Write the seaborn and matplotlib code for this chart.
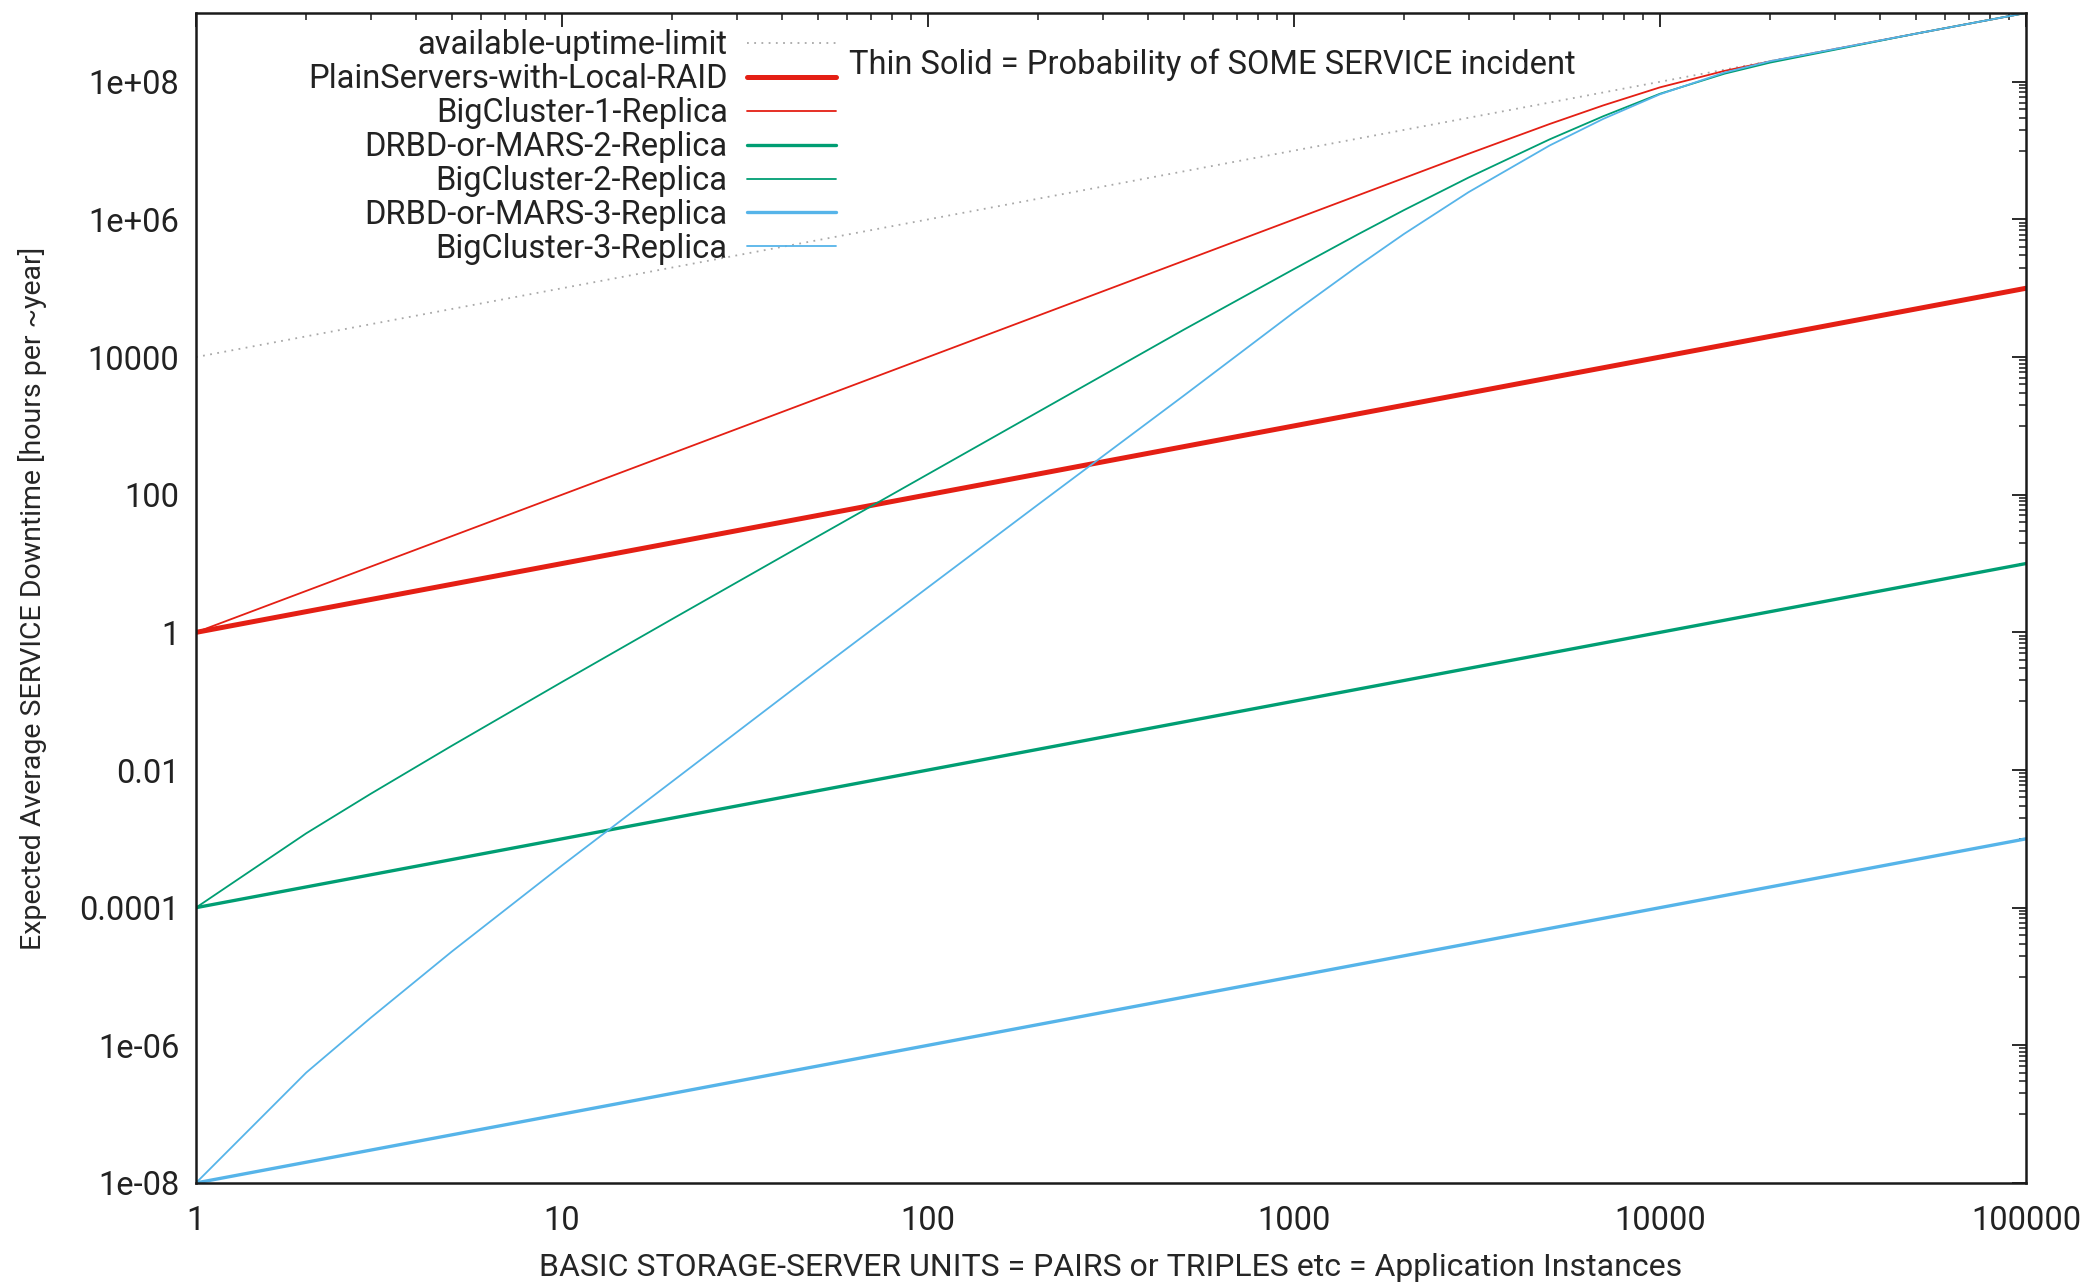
import matplotlib
matplotlib.use("Agg")
import matplotlib.pyplot as plt
import pandas as pd
import seaborn as sns
from matplotlib.ticker import FixedLocator, NullFormatter

# ── values ────────────────────────────────────────────────────────────────────
limit_units = [1, 10, 100, 1000, 10000, 100000]
limit_hours = [1e4, 1e5, 1e6, 1e7, 1e8, 1e9]

line_units = [1, 10, 100, 1000, 10000, 100000]
plain_raid = [1, 10, 100, 1000, 10000, 100000]
drbd_2rep  = [1e-4, 1e-3, 1e-2, 0.1, 1, 10]
drbd_3rep  = [1e-8, 1e-7, 1e-6, 1e-5, 1e-4, 1e-3]

cluster_units = [1, 2, 3, 5, 10, 20, 50, 100, 200, 500, 1000, 1500, 2000, 3000,
                 5000, 7000, 10000, 15000, 20000, 50000, 100000]
big_1rep = [1, 4, 9, 25, 100, 400, 2500, 1e4, 4e4, 2.5e5, 1e6, 2.25e6, 4e6, 9e6,
            2.44e7, 4.54e7, 8.3e7, 1.44e8, 1.98e8, 5e8, 1e9]
big_2rep = [1e-4, 1.2e-3, 4.5e-3, 2.25e-2, 0.19, 1.56, 24.8, 199, 1596, 2.5e4,
            1.9e5, 6.12e5, 1.37e6, 4.06e6, 1.46e7, 3.16e7, 6.7e7, 1.31e8, 1.9e8, 5e8, 1e9]
big_3rep = [1e-8, 4e-7, 2.5e-6, 2.3e-5, 4.1e-4, 6.8e-3, 0.28, 4.5, 72, 2750,
            4.47e4, 2.13e5, 6.17e5, 2.49e6, 1.19e7, 2.89e7, 6.58e7, 1.36e8, 1.99e8, 5e8, 1e9]

x_ticks = [1, 10, 100, 1000, 10000, 100000]
x_ticklabels = ['1', '10', '100', '1000', '10000', '100000']
y_ticks = [1e-8, 1e-6, 1e-4, 1e-2, 1, 1e2, 1e4, 1e6, 1e8]
y_ticklabels = ['1e-08', '1e-06', '0.0001', '0.01', '1', '100', '10000',
                '1e+06', '1e+08']

RED, GREEN, BLUE, GREY = '#e41f14', '#009e73', '#56b4e9', '#a8a8a8'
FS = 23.5

# ── style ─────────────────────────────────────────────────────────────────────
sns.set_theme(style='white')
plt.rcParams['font.family'] = ['Roboto', 'DejaVu Sans']
plt.rcParams['font.size'] = FS
plt.rcParams['text.color'] = '#222222'

fig, ax = plt.subplots(figsize=(20.8, 12.85), dpi=100)
fig.subplots_adjust(left=0.0942, right=0.974, bottom=0.0794, top=0.9899)

series = [
    (limit_units,   limit_hours, 'available-uptime-limit',      GREY,  1.3, (0, (1, 3))),
    (line_units,    plain_raid,  'PlainServers-with-Local-RAID', RED,   3.6, '-'),
    (cluster_units, big_1rep,    'BigCluster-1-Replica',         RED,   1.3, '-'),
    (line_units,    drbd_2rep,   'DRBD-or-MARS-2-Replica',       GREEN, 2.4, '-'),
    (cluster_units, big_2rep,    'BigCluster-2-Replica',         GREEN, 1.3, '-'),
    (line_units,    drbd_3rep,   'DRBD-or-MARS-3-Replica',       BLUE,  2.4, '-'),
    (cluster_units, big_3rep,    'BigCluster-3-Replica',         BLUE,  1.3, '-'),
]
for xs, ys, name, col, lw, ls in series:
    df = pd.DataFrame({'units': xs, 'hours': ys})
    sns.lineplot(data=df, x='units', y='hours', ax=ax, label=name, color=col,
                 linewidth=lw, linestyle=ls, estimator=None, sort=True)

ax.set_xscale('log');  ax.set_yscale('log')
ax.set_xlim(1, 1e5);   ax.set_ylim(1e-8, 1e9)

ax.xaxis.set_major_locator(FixedLocator(x_ticks))
ax.set_xticklabels(x_ticklabels)
ax.xaxis.set_minor_locator(FixedLocator([m * 10**k for k in range(5) for m in range(2, 10)]))
ax.yaxis.set_major_locator(FixedLocator(y_ticks))
ax.set_yticklabels(y_ticklabels)
ax.yaxis.set_minor_locator(FixedLocator([m * 10.0**(2*k + 1) for k in range(-4, 4) for m in range(1, 10)]))
ax.xaxis.set_minor_formatter(NullFormatter())
ax.yaxis.set_minor_formatter(NullFormatter())

ax.tick_params(which='both', direction='in', top=True, right=True,
               colors='#1a1a1a', labelcolor='#222222', labelsize=FS)
ax.tick_params(which='major', length=10, width=1.3)
ax.tick_params(which='minor', length=4.8, width=1.1)
ax.tick_params(axis='x', which='major', pad=16)
ax.tick_params(axis='y', which='major', pad=12)
for sp in ax.spines.values():
    sp.set_color('#1a1a1a');  sp.set_linewidth(1.8)

ax.set_xlabel('BASIC STORAGE-SERVER UNITS = PAIRS or TRIPLES etc = Application Instances',
              fontsize=23)
ax.set_ylabel('Expected Average SERVICE Downtime [hours per ~year]', fontsize=20.5)
ax.xaxis.set_label_coords(0.5, -0.0595)
ax.yaxis.set_label_coords(-0.0815, 0.5)

ax.text(0.357, 0.9557, 'Thin Solid = Probability of SOME SERVICE incident',
        transform=ax.transAxes, ha='left', va='center', fontsize=FS)

ax.legend(loc='upper right', bbox_to_anchor=(0.35, 0.9862), frameon=False,
          markerfirst=False, handlelength=2.73, handletextpad=0.6,
          labelspacing=0.06, borderaxespad=0, borderpad=0, fontsize=FS)

fig.savefig('out.png', dpi=100)
